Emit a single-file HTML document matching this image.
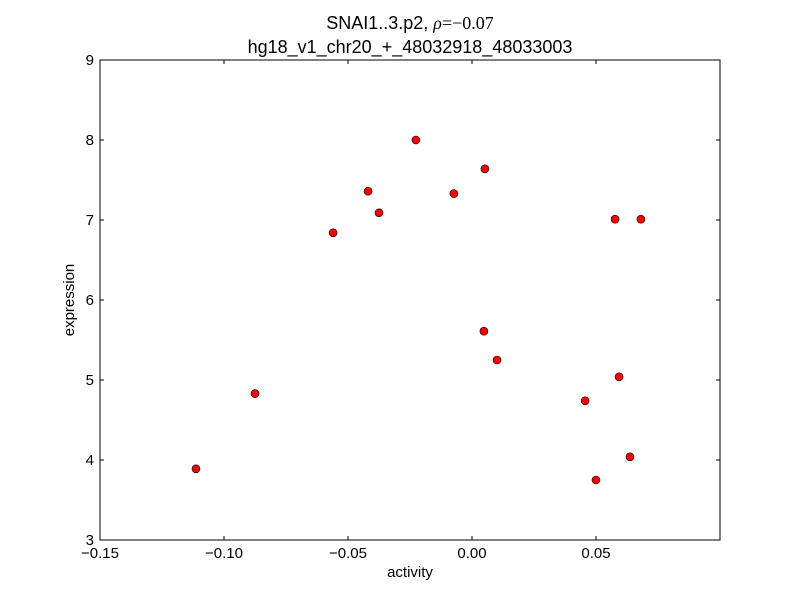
<!DOCTYPE html>
<html><head><meta charset="utf-8"><style>
body{margin:0;background:#fff;font-family:"Liberation Sans",sans-serif}
</style></head><body>
<svg id="chart" width="800" height="600" xmlns="http://www.w3.org/2000/svg">
<rect width="800" height="600" fill="#fff"/>
<text x="410" y="29" font-size="18" text-anchor="middle">SNAI1..3.p2, <tspan font-family="Liberation Serif" font-style="italic">ρ</tspan><tspan font-family="Liberation Serif">=−0.07</tspan></text>
<text x="410" y="53" font-size="18" text-anchor="middle">hg18_v1_chr20_+_48032918_48033003</text>
<g id="marks"></g>
<rect x="100" y="60" width="620" height="480" fill="none" stroke="#000" stroke-width="1"/>
<g id="ticks"></g>
<text x="410" y="577" font-size="15" text-anchor="middle">activity</text>
<text x="0" y="0" font-size="15" text-anchor="middle" transform="translate(74,300) rotate(-90)">expression</text>
</svg>
<script>
const activity=[-0.1113,-0.0875,-0.0560,-0.0419,-0.0375,-0.0226,-0.0073,0.0052,0.0048,0.0101,0.0456,0.0500,0.0577,0.0681,0.0593,0.0637];
const expression=[3.89,4.83,6.84,7.36,7.09,8.0,7.33,7.64,5.61,5.25,4.74,3.75,7.01,7.01,5.04,4.04];
const xTicks=[-0.15,-0.10,-0.05,0.00,0.05];
const xTickLabels=["−0.15","−0.10","−0.05","0.00","0.05"];
const yTicks=[3,4,5,6,7,8,9];
const NS="http://www.w3.org/2000/svg";
const xs=v=>100+(v+0.15)/0.25*620;
const ys=v=>540-(v-3)/6*480;
const marks=document.getElementById('marks');
activity.forEach((a,i)=>{
 const c=document.createElementNS(NS,'circle');
 c.setAttribute('cx',xs(a));c.setAttribute('cy',ys(expression[i]));c.setAttribute('r',4);
 c.setAttribute('fill','#ff0000');c.setAttribute('stroke','#000');c.setAttribute('stroke-width','0.6');
 
 
 marks.appendChild(c);
});
const tk=document.getElementById('ticks');
function line(x1,y1,x2,y2){const l=document.createElementNS(NS,'line');l.setAttribute('x1',x1);l.setAttribute('y1',y1);l.setAttribute('x2',x2);l.setAttribute('y2',y2);l.setAttribute('stroke','#000');tk.appendChild(l);}
function text(x,y,s,anchor){const t=document.createElementNS(NS,'text');t.setAttribute('x',x);t.setAttribute('y',y);t.setAttribute('font-size','15');t.setAttribute('text-anchor',anchor);t.textContent=s;
 
 
 tk.appendChild(t);}
xTicks.forEach((v,i)=>{const x=xs(v);line(x,540,x,536);line(x,60,x,64);text(x,558,xTickLabels[i],'middle');});
yTicks.forEach(v=>{const y=ys(v);line(100,y,104,y);line(720,y,716,y);text(94,y+5,String(v),'end');});
</script>
</body></html>
